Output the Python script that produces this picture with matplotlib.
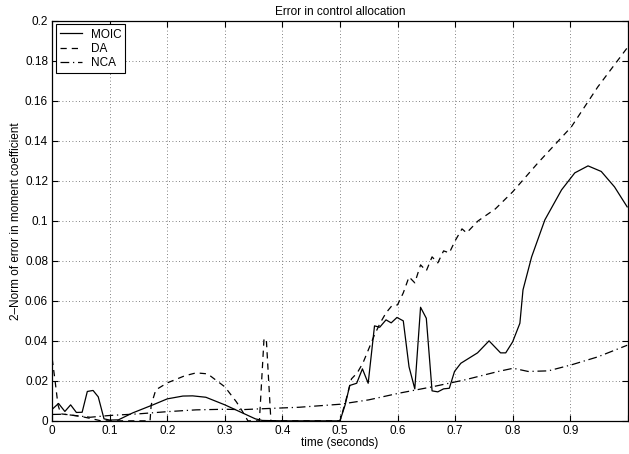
import matplotlib
matplotlib.use("Agg")
import matplotlib.pyplot as plt

plt.rcParams['font.family'] = ['Liberation Sans', 'DejaVu Sans']

# MOIC (solid)
moic_t = [0.0, 0.011, 0.022, 0.032, 0.042, 0.052, 0.061, 0.071, 0.08, 0.09, 0.1, 0.115,
          0.14, 0.175, 0.2, 0.227, 0.244, 0.267, 0.3, 0.325, 0.353, 0.365, 0.4, 0.5,
          0.509, 0.517, 0.529, 0.539, 0.549, 0.56, 0.569, 0.58, 0.589, 0.599, 0.61,
          0.62, 0.63, 0.64, 0.65, 0.66, 0.67, 0.68, 0.69, 0.699, 0.71, 0.739, 0.759,
          0.779, 0.788, 0.8, 0.8126, 0.818, 0.833, 0.856, 0.885, 0.908, 0.931, 0.954,
          0.977, 0.999]
moic_v = [0.0058, 0.0087, 0.0047, 0.008, 0.0042, 0.0043, 0.0147, 0.0152, 0.012, 0.001,
          0.0004, 0.0005, 0.004, 0.008, 0.011, 0.0124, 0.0125, 0.0118, 0.008, 0.0047,
          0.001, 0.0002, 0.0, 0.0, 0.008, 0.0177, 0.0188, 0.026, 0.0188, 0.0475, 0.0468,
          0.0505, 0.049, 0.0517, 0.05, 0.027, 0.016, 0.0568, 0.0513, 0.015, 0.0145,
          0.016, 0.0163, 0.0247, 0.0288, 0.034, 0.04, 0.034, 0.034, 0.0395, 0.0488,
          0.0655, 0.082, 0.1005, 0.1155, 0.124, 0.1275, 0.1247, 0.117, 0.107]

# DA (dashed)
da_t = [0.0, 0.005, 0.01, 0.015, 0.03, 0.05, 0.07, 0.085, 0.17, 0.172, 0.18, 0.2, 0.23,
        0.25, 0.27, 0.3, 0.32, 0.33, 0.34, 0.36, 0.368, 0.372, 0.38, 0.5, 0.51, 0.52,
        0.53, 0.54, 0.55, 0.56, 0.57, 0.58, 0.59, 0.6, 0.61, 0.62, 0.63, 0.64, 0.65,
        0.66, 0.67, 0.68, 0.69, 0.7, 0.712, 0.72, 0.74, 0.77, 0.8, 0.844, 0.902, 0.948,
        0.999]
da_v = [0.031, 0.02, 0.008, 0.0035, 0.003, 0.0022, 0.001, 0.0, 0.0, 0.008, 0.0155, 0.019,
        0.0225, 0.024, 0.0235, 0.017, 0.0095, 0.005, 0.0, 0.0, 0.041, 0.041, 0.0, 0.0,
        0.01, 0.021, 0.024, 0.029, 0.036, 0.043, 0.049, 0.054, 0.0575, 0.058, 0.064,
        0.072, 0.069, 0.078, 0.075, 0.082, 0.079, 0.085, 0.084, 0.09, 0.096, 0.094,
        0.1, 0.106, 0.1145, 0.129, 0.147, 0.167, 0.1865]

# NCA (dash-dot)
nca_t = [0.0, 0.02, 0.066, 0.1, 0.15, 0.2, 0.25, 0.3, 0.33, 0.36, 0.429, 0.5, 0.55,
         0.602, 0.66, 0.717, 0.775, 0.801, 0.827, 0.862, 0.902, 0.948, 0.999]
nca_v = [0.0032, 0.0033, 0.0018, 0.0027, 0.0035, 0.0046, 0.0055, 0.0058, 0.0056, 0.006,
         0.0068, 0.0083, 0.0105, 0.0138, 0.017, 0.0205, 0.0247, 0.0263, 0.0247, 0.025,
         0.028, 0.032, 0.0378]

fig = plt.figure(figsize=(6.29, 4.54), dpi=100)
ax = fig.add_axes([0.083, 0.073, 0.915, 0.881])

ax.plot(moic_t, moic_v, color='k', linestyle='-', linewidth=0.9, label='MOIC')
ax.plot(da_t, da_v, color='k', linestyle=(0, (5, 4)), linewidth=0.9, label='DA')
ax.plot(nca_t, nca_v, color='k', linestyle=(0, (7, 3, 1, 3)), linewidth=0.9, label='NCA')

ax.set_xlim(0, 1.0)
ax.set_ylim(0, 0.2)
ax.set_xticks([0, 0.1, 0.2, 0.3, 0.4, 0.5, 0.6, 0.7, 0.8, 0.9, 1.0])
ax.set_xticklabels(['0', '0.1', '0.2', '0.3', '0.4', '0.5', '0.6', '0.7', '0.8', '0.9', ''])
yt = [0, 0.02, 0.04, 0.06, 0.08, 0.1, 0.12, 0.14, 0.16, 0.18, 0.2]
ax.set_yticks(yt)
ax.set_yticklabels(['0', '0.02', '0.04', '0.06', '0.08', '0.1', '0.12', '0.14', '0.16', '0.18', '0.2'])

fs = 8.5
ax.tick_params(direction='in', top=True, right=True, labelsize=fs, length=4, pad=3)
ax.grid(True, color='0.35', linestyle=(0, (1, 3)), linewidth=0.6)
for s in ax.spines.values():
    s.set_linewidth(0.9)

ax.set_title('Error in control allocation', fontsize=fs, pad=4)
ax.set_xlabel('time (seconds)', fontsize=fs, labelpad=0)
ax.set_ylabel('2–Norm of error in moment coefficient', fontsize=fs, labelpad=2)

leg = ax.legend(loc='upper left', fontsize=fs, frameon=True, fancybox=False,
                edgecolor='k', framealpha=1, handlelength=1.9, borderpad=0.35,
                labelspacing=0.2, handletextpad=0.7, borderaxespad=0.3)
leg.get_frame().set_linewidth(0.8)

fig.savefig('out.png', dpi=100)
